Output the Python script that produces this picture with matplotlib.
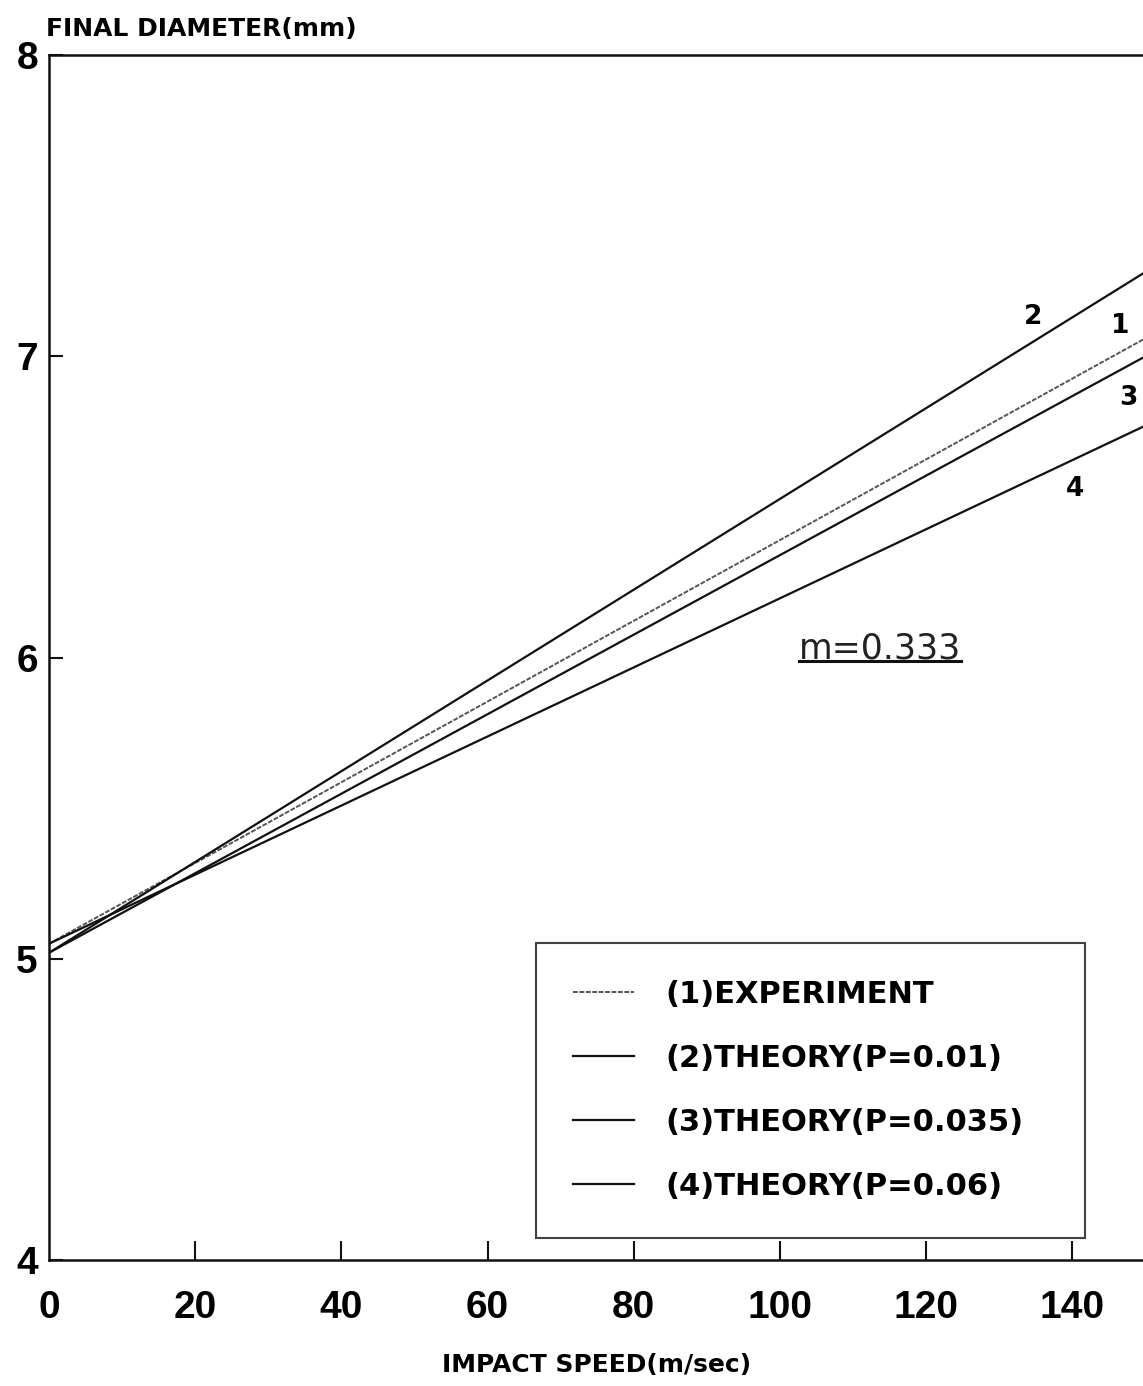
import matplotlib
matplotlib.use("Agg")
import matplotlib.pyplot as plt
from matplotlib.lines import Line2D

# ---- data ----
speed = [0, 150]
exp_d = [5.05, 7.06]      # (1) experiment
th001 = [5.02, 7.28]      # (2) theory P=0.01
th0035 = [5.02, 7.00]     # (3) theory P=0.035
th006 = [5.05, 6.77]      # (4) theory P=0.06

x_ticks = [20, 40, 60, 80, 100, 120, 140]
x_ticklabels = ["0", "20", "40", "60", "80", "100", "120", "140"]
y_ticks = [4, 5, 6, 7, 8]
legend_labels = ["(1)EXPERIMENT", "(2)THEORY(P=0.01)",
                 "(3)THEORY(P=0.035)", "(4)THEORY(P=0.06)"]
curve_tags = ["1", "2", "3", "4"]
tag_pos = [(146.5, 7.10), (134.6, 7.13), (147.6, 6.86), (140.4, 6.56)]

plt.rcParams['font.family'] = ['Liberation Sans', 'DejaVu Sans']

fig = plt.figure(figsize=(11.43, 13.86), dpi=100)
ax = fig.add_axes([0.0429, 0.0909, 0.9593, 0.8694])

l1, = ax.plot(speed, exp_d, color='#555555', lw=1.4, linestyle=(0, (2.5, 0.8)))
l2, = ax.plot(speed, th001, color='#111111', lw=1.6)
l3, = ax.plot(speed, th0035, color='#111111', lw=1.6)
l4, = ax.plot(speed, th006, color='#111111', lw=1.6)

ax.set_xlim(0, 150)
ax.set_ylim(4, 8)

for s in ['left', 'bottom', 'top']:
    ax.spines[s].set_linewidth(1.8)
    ax.spines[s].set_color('#111111')
ax.spines['right'].set_visible(False)

ax.set_xticks(x_ticks)
ax.set_xticklabels([])
ax.tick_params(axis='x', direction='in', length=14, width=1.5, color='#111111')
ax.set_yticks(y_ticks)
ax.set_yticklabels([str(v) for v in y_ticks], fontsize=28, fontweight='bold')
ax.tick_params(axis='y', direction='in', length=10, width=1.5, pad=8, color='#111111')

# x tick labels including 0 at axis origin
for v, lab in zip([0] + x_ticks, x_ticklabels):
    ax.text(v, -0.025, lab, transform=ax.get_xaxis_transform(),
            ha='center', va='top', fontsize=28, fontweight='bold')

fig.text(0.04, 0.979, "FINAL DIAMETER(mm)", fontsize=18, fontweight='bold',
         family='DejaVu Sans', ha='left', va='center')
fig.text(0.522, 0.015, "IMPACT SPEED(m/sec)", fontsize=18, fontweight='bold',
         family='DejaVu Sans', ha='center', va='center')

for tag, (tx, ty) in zip(curve_tags, tag_pos):
    ax.text(tx, ty, tag, fontsize=19, fontweight='bold', family='DejaVu Sans',
            ha='center', va='center')

mtxt = ax.text(113.7, 6.03, "m=0.333", fontsize=25, family='DejaVu Sans',
               ha='center', va='center', color='#222222')

leg = ax.legend([l1, l2, l3, l4], legend_labels, loc='upper left',
                bbox_to_anchor=(0.444, 0.0274, 0.501, 0.2357), mode='expand',
                prop={'family': 'DejaVu Sans', 'weight': 'bold', 'size': 22},
                frameon=True, fancybox=False, edgecolor='#111111',
                handlelength=2.0, handletextpad=1.05, labelspacing=1.15,
                borderpad=1.2, borderaxespad=0)
leg.get_frame().set_linewidth(1.5)

# underline for m=0.333
fig.canvas.draw()
r = fig.canvas.get_renderer()
bb = mtxt.get_window_extent(r)
inv = fig.transFigure.inverted()
(x0, y0) = inv.transform((bb.x0, bb.y0 + 4))
(x1, _) = inv.transform((bb.x1, bb.y0 + 4))
fig.add_artist(Line2D([x0, x1], [y0, y0], transform=fig.transFigure,
                      color='#111111', lw=2.2))

fig.savefig("out.png", dpi=100)
